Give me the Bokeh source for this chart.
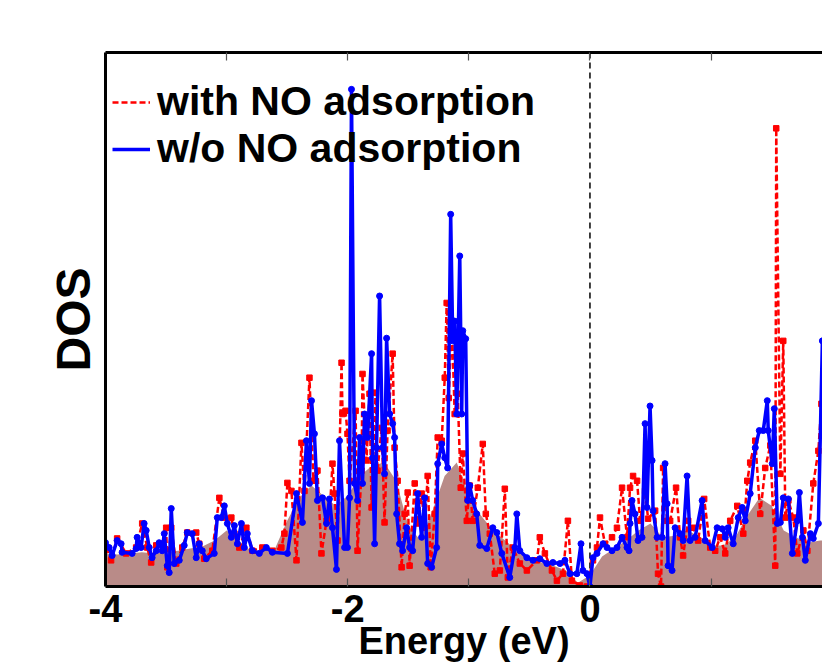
from bokeh.plotting import figure
from bokeh.models import (LinearAxis, FixedTicker, Span, Legend, LegendItem, Range1d)
from bokeh.embed import file_html
from bokeh.resources import INLINE

# ---------------- data (energy in eV, DOS in arbitrary units) ----------------
energy_red = [-3.995, -3.954, -3.904, -3.830, -3.747, -3.697, -3.656, -3.623, -3.581, -3.532,
              -3.499, -3.490, -3.457, -3.416, -3.366, -3.325, -3.251, -3.226, -3.184, -3.118,
              -3.060, -3.019, -2.961, -2.936, -2.895, -2.837, -2.787, -2.705, -2.622, -2.548,
              -2.523, -2.498, -2.465, -2.423, -2.382, -2.357, -2.316, -2.283, -2.250, -2.217,
              -2.175, -2.151, -2.126, -2.109, -2.084, -2.051, -2.043, -2.018, -2.002, -1.985,
              -1.935, -1.919, -1.886, -1.878, -1.845, -1.820, -1.803, -1.770, -1.754, -1.720,
              -1.696, -1.671, -1.629, -1.613, -1.588, -1.555, -1.530, -1.505, -1.489, -1.447,
              -1.423, -1.390, -1.365, -1.340, -1.315, -1.282, -1.257, -1.224, -1.199, -1.183,
              -1.166, -1.141, -1.117, -1.092, -1.067, -1.050, -1.017, -0.993, -0.968, -0.926,
              -0.885, -0.860, -0.827, -0.786, -0.744, -0.703, -0.678, -0.637, -0.579, -0.521,
              -0.438, -0.414, -0.372, -0.314, -0.273, -0.223, -0.182, -0.149, -0.083, -0.025,
              0.025, 0.058, 0.083, 0.124, 0.182, 0.223, 0.265, 0.306, 0.331, 0.356,
              0.389, 0.414, 0.455, 0.480, 0.538, 0.562, 0.587, 0.604, 0.637, 0.662,
              0.711, 0.744, 0.769, 0.811, 0.852, 0.893, 0.943, 0.993, 1.034, 1.075,
              1.117, 1.158, 1.216, 1.266, 1.299, 1.323, 1.365, 1.406, 1.447, 1.489,
              1.530, 1.538, 1.572, 1.596, 1.613, 1.638, 1.679, 1.712, 1.762, 1.795,
              1.844, 1.886, 1.911, 1.95]
dos_red = [0.73, 0.49, 0.90, 0.62, 0.73, 1.18, 0.73, 0.45, 0.77, 0.80,
           1.10, 0.36, 1.10, 0.43, 0.73, 1.01, 1.01, 0.80, 0.52, 0.67,
           1.66, 1.29, 1.29, 0.99, 0.73, 1.10, 0.67, 0.73, 0.67, 0.73,
           0.99, 1.94, 1.79, 0.49, 2.69, 1.79, 3.91, 1.98, 2.17, 0.62,
           1.23, 1.29, 2.30, 1.74, 0.86, 4.19, 3.23, 3.29, 2.86, 1.98,
           3.29, 0.67, 2.17, 3.98, 2.36, 3.61, 1.48, 3.63, 2.17, 2.97,
           1.20, 2.92, 4.36, 2.60, 1.98, 0.36, 1.36, 1.76, 0.39, 1.93,
           1.18, 1.74, 1.10, 2.07, 0.36, 1.36, 2.79, 2.73, 3.91, 5.31,
           3.53, 4.97, 3.23, 3.61, 1.85, 2.49, 1.23, 1.89, 1.23, 1.85,
           2.67, 1.36, 0.99, 0.24, 0.30, 1.83, 0.17, 0.73, 0.43, 0.30,
           0.49, 0.92, 0.62, 0.30, 0.11, 0.24, 1.23, 0.11, 0.02, 0.00,
           0.49, 0.73, 1.29, 0.80, 0.92, 1.10, 1.85, 0.92, 1.85, 2.07,
           1.98, 1.23, 1.79, 1.27, 1.42, 0.24, 0.00, 2.22, 1.23, 1.23,
           1.85, 0.92, 0.58, 1.23, 1.10, 0.86, 1.64, 0.73, 0.67, 0.92,
           0.62, 1.23, 1.51, 0.99, 1.98, 2.32, 2.73, 1.36, 2.22, 2.64,
           0.39, 8.58, 2.11, 4.60, 1.29, 1.61, 1.29, 0.62, 1.05, 0.67,
           1.93, 2.54, 3.42, 2.54]

energy_blue = [-4.000, -3.970, -3.945, -3.904, -3.871, -3.863, -3.780, -3.747, -3.739, -3.706,
               -3.681, -3.664, -3.639, -3.615, -3.581, -3.557, -3.532, -3.515, -3.490, -3.474,
               -3.457, -3.433, -3.391, -3.350, -3.325, -3.284, -3.251, -3.226, -3.201, -3.168,
               -3.102, -3.077, -3.044, -3.019, -2.994, -2.961, -2.936, -2.911, -2.878, -2.854,
               -2.829, -2.787, -2.730, -2.672, -2.622, -2.498, -2.423, -2.374, -2.341, -2.316,
               -2.299, -2.275, -2.250, -2.208, -2.175, -2.151, -2.126, -2.093, -2.068, -2.026,
               -2.002, -1.985, -1.969, -1.944, -1.919, -1.902, -1.878, -1.861, -1.836, -1.803,
               -1.795, -1.778, -1.762, -1.737, -1.712, -1.696, -1.679, -1.654, -1.629, -1.613,
               -1.596, -1.572, -1.547, -1.514, -1.489, -1.464, -1.423, -1.390, -1.365, -1.340,
               -1.307, -1.266, -1.257, -1.224, -1.199, -1.175, -1.150, -1.133, -1.117, -1.100,
               -1.075, -1.059, -1.050, -1.026, -1.009, -0.993, -0.968, -0.935, -0.910, -0.852,
               -0.802, -0.769, -0.728, -0.662, -0.620, -0.604, -0.579, -0.521, -0.471, -0.414,
               -0.356, -0.306, -0.248, -0.207, -0.165, -0.108, -0.074, -0.058, -0.025, 0.000,
               0.025, 0.058, 0.108, 0.141, 0.182, 0.223, 0.265, 0.306, 0.323, 0.331,
               0.347, 0.372, 0.397, 0.430, 0.455, 0.471, 0.496, 0.513, 0.521, 0.554,
               0.596, 0.620, 0.637, 0.645, 0.678, 0.703, 0.744, 0.769, 0.802, 0.827,
               0.868, 0.926, 0.951, 1.009, 1.050, 1.092, 1.117, 1.141, 1.183, 1.224,
               1.257, 1.282, 1.323, 1.365, 1.398, 1.431, 1.464, 1.472, 1.505, 1.522,
               1.547, 1.572, 1.596, 1.638, 1.671, 1.712, 1.729, 1.754, 1.778, 1.820,
               1.844, 1.886, 1.919, 1.95]
dos_blue = [0.82, 0.73, 0.58, 0.86, 0.80, 0.64, 0.62, 0.71, 0.92, 0.73,
            1.18, 1.05, 0.73, 0.54, 0.67, 0.82, 0.67, 0.99, 0.39, 0.26,
            1.46, 0.43, 0.49, 0.77, 1.01, 0.99, 0.54, 0.80, 0.67, 0.52,
            0.62, 1.29, 1.29, 1.51, 1.18, 0.92, 1.14, 0.80, 1.18, 0.73,
            0.99, 0.67, 0.62, 0.73, 0.64, 0.62, 1.74, 1.20, 2.73, 1.93,
            3.48, 2.86, 1.61, 1.66, 1.18, 1.64, 1.10, 0.32, 2.73, 0.73,
            0.73, 1.66, 9.31, 1.93, 1.61, 2.79, 1.93, 3.23, 2.79, 4.36,
            2.41, 0.80, 2.60, 5.44, 2.60, 2.11, 4.65, 3.23, 3.05, 2.79,
            1.36, 0.80, 0.67, 1.10, 0.73, 0.67, 1.74, 0.92, 1.66, 0.43,
            0.36, 0.73, 2.30, 2.67, 2.41, 2.22, 6.97, 4.60, 4.97, 3.23,
            6.19, 3.23, 4.79, 4.64, 1.61, 1.89, 1.61, 1.36, 0.77, 0.71,
            1.10, 1.01, 0.62, 0.17, 0.73, 1.36, 0.67, 0.54, 0.49, 0.52,
            0.43, 0.45, 0.43, 0.49, 0.24, 0.24, 0.80, 0.30, 0.24, 0.00,
            0.54, 0.62, 0.80, 0.73, 0.67, 0.73, 0.92, 0.73, 0.67, 1.18,
            1.61, 1.36, 0.86, 0.92, 3.05, 1.48, 3.38, 2.36, 1.42, 0.92,
            0.92, 2.30, 1.55, 0.39, 0.30, 1.10, 0.99, 0.86, 2.07, 0.86,
            0.92, 1.61, 0.86, 0.73, 1.10, 1.08, 0.92, 1.10, 0.80, 1.29,
            1.48, 1.23, 1.74, 2.60, 2.92, 2.92, 3.48, 2.92, 2.30, 3.33,
            1.18, 1.20, 1.66, 1.64, 0.62, 1.23, 1.76, 0.92, 0.49, 0.99,
            0.90, 1.18, 4.60, 3.50]

energy_fill = [-4.0, -3.9, -3.8, -3.7, -3.6, -3.5, -3.4, -3.3, -3.2, -3.1,
               -3.0, -2.9, -2.8, -2.7, -2.6, -2.5, -2.4, -2.3, -2.2, -2.1,
               -2.0, -1.9, -1.8, -1.7, -1.6, -1.5, -1.4, -1.3, -1.2, -1.1,
               -1.0, -0.9, -0.8, -0.7, -0.6, -0.5, -0.4, -0.3, -0.2, -0.1,
               0.0, 0.1, 0.2, 0.3, 0.4, 0.5, 0.6, 0.7, 0.8, 0.9,
               1.0, 1.1, 1.2, 1.3, 1.4, 1.5, 1.6, 1.7, 1.8, 1.9, 2.0]
dos_fill = [0.62, 0.60, 0.62, 0.64, 0.62, 0.64, 0.67, 0.71, 0.75, 0.86,
            1.05, 0.86, 0.67, 0.67, 0.71, 1.23, 1.66, 1.89, 1.70, 1.51,
            1.70, 2.07, 2.26, 2.32, 1.98, 1.14, 0.86, 1.42, 2.07, 2.32,
            1.70, 1.33, 1.05, 0.86, 0.67, 0.56, 0.45, 0.39, 0.30, 0.07,
            0.21, 0.56, 0.71, 0.86, 1.05, 1.18, 0.92, 0.95, 1.05, 0.95,
            0.77, 0.77, 0.92, 1.33, 1.66, 1.51, 1.05, 0.92, 0.82, 0.86, 0.86]

x_major_ticks = [-4, -2, 0, 2]
x_tick_labels = ["-4", "-2", "0", "2"]
x_minor_ticks = [-3, -1, 1]
series_labels = ["with NO adsorption", "w/o NO adsorption"]
x_title = "Energy (eV)"
y_title = "DOS"

FONT = "Liberation Sans"

p = figure(width=822, height=664, output_backend="svg", toolbar_location=None,
           x_range=Range1d(-4, 1.92), y_range=Range1d(0, 10),
           min_border_left=105, min_border_right=0, min_border_top=52, min_border_bottom=77,
           x_axis_location=None, y_axis_location=None)
p.grid.visible = False
p.outline_line_color = None
p.background_fill_color = "white"
p.border_fill_color = "white"


def style_x(ax):
    ax.axis_line_color = "black"
    ax.axis_line_width = 3
    ax.major_tick_in = 8
    ax.major_tick_out = 0
    ax.minor_tick_in = 8
    ax.minor_tick_out = 0
    ax.major_tick_line_color = "#555555"
    ax.minor_tick_line_color = "#555555"
    ax.major_tick_line_width = 1.2
    ax.minor_tick_line_width = 1.2


xaxis = LinearAxis(ticker=FixedTicker(ticks=x_major_ticks, minor_ticks=x_minor_ticks))
style_x(xaxis)
xaxis.major_label_overrides = {t: s for t, s in zip(x_major_ticks, x_tick_labels)}
xaxis.major_label_text_font = FONT
xaxis.major_label_text_font_style = "bold"
xaxis.major_label_text_font_size = "38px"
xaxis.major_label_text_color = "black"
xaxis.major_label_standoff = 8
# axis title tucked up close under the tick labels so it stays inside the page
xaxis.axis_label = x_title
xaxis.axis_label_text_font = FONT
xaxis.axis_label_text_font_style = "bold"
xaxis.axis_label_text_font_size = "38px"
xaxis.axis_label_text_color = "black"
xaxis.axis_label_standoff = -5
p.add_layout(xaxis, "below")

# top frame edge: tick marks only (minor ticks carry no labels)
topaxis = LinearAxis(ticker=FixedTicker(ticks=[], minor_ticks=x_major_ticks + x_minor_ticks))
style_x(topaxis)
p.add_layout(topaxis, "above")

yaxis = LinearAxis(ticker=FixedTicker(ticks=[]))
yaxis.axis_line_color = "black"
yaxis.axis_line_width = 3
yaxis.major_tick_line_color = None
yaxis.minor_tick_line_color = None
yaxis.axis_label = y_title
yaxis.axis_label_text_font = FONT
yaxis.axis_label_text_font_style = "bold"
yaxis.axis_label_text_font_size = "48px"
yaxis.axis_label_text_color = "black"
yaxis.axis_label_standoff = 6
p.add_layout(yaxis, "left")

# shaded total DOS
p.varea(x=energy_fill, y1=0, y2=dos_fill, fill_color="#b98b88", fill_alpha=1.0)

# Fermi level
p.add_layout(Span(location=0, dimension="height", line_color="black",
                  line_dash="6 4", line_width=1.5, level="underlay"))

red_line = p.line(energy_red, dos_red, line_color="#ff0000", line_width=2.5, line_dash="6 3")
p.scatter(energy_red, dos_red, marker="square", size=5.5, color="#ff0000")
blue_line = p.line(energy_blue, dos_blue, line_color="#0000ff", line_width=3.5)
p.scatter(energy_blue, dos_blue, marker="circle", size=6, color="#0000ff")

legend = Legend(items=[LegendItem(label=series_labels[0], renderers=[red_line]),
                       LegendItem(label=series_labels[1], renderers=[blue_line])],
                location=(7, 414), orientation="vertical",
                label_text_font=FONT, label_text_font_style="bold",
                label_text_font_size="41px", label_text_color="black",
                label_height=44, glyph_height=44, glyph_width=38,
                label_standoff=7, spacing=0, padding=0, margin=0,
                border_line_color=None, background_fill_alpha=0)
p.add_layout(legend)

open("out.html", "w").write(file_html(p, INLINE))
